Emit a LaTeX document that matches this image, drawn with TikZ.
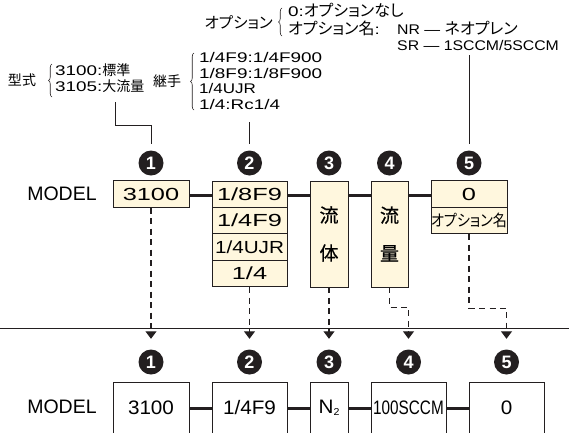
\documentclass[tikz,border=0pt]{standalone}
\usepackage{fontspec}
\usepackage{graphicx}
\setmainfont{Liberation Sans}
\newfontfamily\jp[RawFeature=+palt]{Noto Sans CJK JP}
\newfontfamily\jpb[FakeBold=0.6]{Noto Sans CJK JP}
\newfontfamily\boxf[FakeStretch=1.45]{Liberation Sans}
\newfontfamily\annf[FakeStretch=1.35]{Liberation Sans}
\newfontfamily\annn[FakeStretch=1.13]{Liberation Sans}
\newfontfamily\botf[FakeStretch=1.06]{Liberation Sans}
\newcommand\jtxt[1]{{\jp\fontsize{16}{16}\selectfont #1}}
\newcommand\jkan[1]{{\jp\fontsize{14}{14}\selectfont #1}}
\usetikzlibrary{decorations.pathreplacing,arrows.meta}
\definecolor{cream}{RGB}{255,247,222}
\definecolor{ink}{RGB}{35,31,32}
\begin{document}
\begin{tikzpicture}[x=1pt,y=-1pt,
 topbox/.style={draw=ink,line width=0.9pt,fill=cream,inner sep=0pt,minimum width=#1,minimum height=26.4pt,font=\boxf\fontsize{17.5}{17.5}\selectfont},
 tallbox/.style={draw=ink,line width=0.9pt,fill=cream,inner sep=0pt,minimum width=#1,minimum height=106pt,align=center,font=\jpb\fontsize{19}{38}\selectfont},
 botbox/.style={draw=ink,line width=0.8pt,fill=white,inner sep=0pt,minimum width=#1,minimum height=52pt,font=\botf\fontsize{19.5}{19.5}\selectfont},
 num/.style={circle,fill=ink,text=white,minimum size=25pt,inner sep=0pt,font=\bfseries\fontsize{18}{18}\selectfont},
 conn/.style={draw=ink,line width=3pt},
 dasharr/.style={draw=ink,line width=1.1pt,dash pattern=on 6pt off 4.5pt,-{Triangle[width=11pt,length=7.5pt]},shorten >=10.5pt},
 lead/.style={draw=ink,line width=0.8pt,shorten >=6pt},
 ann/.style={inner sep=0pt,text height=10pt,text depth=3pt,font=\annf\fontsize{14}{14}\selectfont},
 annb/.style={inner sep=0pt,text height=10pt,text depth=3pt,font=\annn\fontsize{14}{14}\selectfont},
 jpann/.style={inner sep=0pt,font=\jp\fontsize{14}{14}\selectfont},
 model/.style={inner sep=0pt,font=\fontsize{19.5}{19.5}\selectfont},
 brc/.style={draw=ink,line width=0.6pt,decorate,decoration={brace,amplitude=3.5pt}}
]
\useasboundingbox (0,0) rectangle (569,432);
\clip (0,0) rectangle (569,432);

% annotations
\node[jpann] (kata) at (22,80) {型式};
\draw[brc] (52,97) -- (52,64);
\node[ann,anchor=west] (k1) at (55,72) {3100:\jkan{標準}};
\node[ann,anchor=west] (k2) at (55,88) {3105:\jkan{大流量}};
\node[jpann] (tsugi) at (167,81) {継手};
\draw[brc] (194,110) -- (194,53);
\node[ann,anchor=west] (t1) at (199,59) {1/4F9:1/4F900};
\node[ann,anchor=west] (t2) at (199,74.5) {1/8F9:1/8F900};
\node[ann,anchor=west] (t3) at (199,90) {\scalebox{0.9}[1]{1/4UJR}};
\node[ann,anchor=west] (t4) at (199,105.5) {1/4:Rc1/4};
\node[jpann,anchor=east,font=\jp\fontsize{15.5}{15.5}\selectfont] (opt) at (273,22) {オプション};
\draw[brc] (282,36) -- (282,8);
\node[ann,anchor=west] (o1) at (288,13) {0:\jtxt{オプションなし}};
\node[ann,anchor=west] (o2) at (288,31) {\jtxt{オプション名}:};
\node[annb,anchor=west] (o3) at (397,31) {NR — \jtxt{ネオプレン}};
\node[annb,anchor=west] (o4) at (397,47) {SR — 1SCCM/5SCCM};

% top row
\node[model] (mt) at (62,194) {MODEL};
\node[topbox=76pt] (b1) at (151,194) {3100};
\node[topbox=75pt] (b2a) at (249.5,194.2) {1/8F9};
\node[topbox=75pt] (b2b) at (249.5,220.6) {1/4F9};
\node[topbox=75pt] (b2c) at (249.5,247) {\scalebox{0.815}[1]{1/4UJR}};
\node[topbox=75pt] (b2d) at (249.5,273.4) {1/4};
\node[tallbox=38pt] (b3) at (329,234) {流\\体};
\node[tallbox=37pt] (b4) at (389.5,234) {流\\量};
\node[topbox=76pt] (b5a) at (469,194) {0};
\node[topbox=76pt,font=\jp\fontsize{16}{16}\selectfont] (b5b) at (469,220.4) {\scalebox{0.88}[1]{オプション名}};

\node[num] (n1) at (151,163) {1};
\node[num] (n2) at (249.5,163) {2};
\node[num] (n3) at (329,163) {3};
\node[num] (n4) at (389.5,163) {4};
\node[num] (n5) at (469,163) {5};

\draw[conn] (b1.east |- 0,195) -- (b2a.west |- 0,195);
\draw[conn] (b2a.east |- 0,195) -- (b3.west |- 0,195);
\draw[conn] (b3.east |- 0,195) -- (b4.west |- 0,195);
\draw[conn] (b4.east |- 0,195) -- (b5a.west |- 0,195);

% leader lines
\coordinate (k2b) at (115,102);
\draw[lead] (k2b) -- (115,125) -| (n1.north);
\coordinate (t4b) at (249.5,122);
\draw[lead] (t4b) -- (n2);
\coordinate (o4b) at (469,55);
\draw[lead] (o4b) -- (n5);

% separator
\draw[ink,line width=0.8pt] (0,328) -- (569,328);

% bottom row
\node[model] (mb) at (62,407) {MODEL};
\node[botbox=76pt] (m1) at (151,408) {3100};
\node[botbox=75pt] (m2) at (249.5,408) {1/4F9};
\node[botbox=38pt] (m3) at (329,408) {N\raisebox{-2pt}{\fontsize{10}{10}\selectfont 2}};
\node[botbox=75pt] (m4) at (408.5,408) {\scalebox{0.74}[1]{100SCCM}};
\node[botbox=75pt] (m5) at (506.5,408) {0};

\node[num] (c1) at (151,362) {1};
\node[num] (c2) at (249.5,362) {2};
\node[num] (c3) at (329,362) {3};
\node[num] (c4) at (408.5,362) {4};
\node[num] (c5) at (506.5,362) {5};

\draw[conn] (m1) -- (m2);
\draw[conn] (m2) -- (m3);
\draw[conn] (m3) -- (m4);
\draw[conn] (m4) -- (m5);

% dashed arrows
\draw[dasharr] (b1) -- (c1);
\draw[dasharr] (b2d) -- (c2);
\draw[dasharr] (b3) -- (c3);
\draw[dasharr] (b4.south) -- ++(0,20) -| (c4.north);
\draw[dasharr] (b5b.south) -- ++(0,74) -| (c5.north);
\end{tikzpicture}
\end{document}
